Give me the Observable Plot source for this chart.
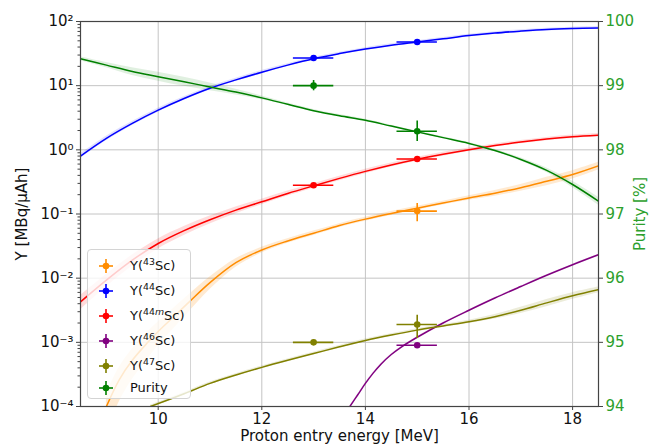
<!DOCTYPE html>
<html>
<head>
<meta charset="utf-8">
<script src="https://cdn.jsdelivr.net/npm/d3@7"></script>
<script src="https://cdn.jsdelivr.net/npm/@observablehq/plot@0.6"></script>
<style>
  body { margin: 0; background: #fff; }
  #wrap { position: relative; width: 653px; height: 447px; font-family: "DejaVu Sans", sans-serif; }
  #legend { position: absolute; left: 87px; top: 249px; width: 104px; height: 150px; box-sizing: border-box;
            border: 1px solid #d4d4d4; border-radius: 4px; background: rgba(255,255,255,0.8); color: #111; font-size: 13px; }
  #legend .row { position: absolute; left: 0; height: 20px; width: 100%; }
  #legend svg { position: absolute; left: 11px; top: 3px; }
  #legend .lab { position: absolute; left: 42px; top: 0; line-height: 20px; white-space: nowrap; }
  #legend sup { font-size: 0.72em; line-height: 0; vertical-align: 0.5em; }
</style>
</head>
<body>
<div id="wrap"></div>
<script>
// ---------- data ----------
const gridE = [8.5, 9, 9.5, 10, 10.5, 11, 11.5, 12, 12.5, 13, 13.5, 14, 14.5, 15, 15.5, 16, 16.5, 17, 17.5, 18, 18.5];

const y44 = [0.80, 1.51, 2.58, 4.15, 6.31, 9.12, 12.3, 16.2, 20.9, 26.3, 31.6, 37.2, 42.7, 47.9, 53.7, 60.3, 66.1, 70.8, 75.0, 77.6, 79.4];
const y44Err = [0.08, 0.08, 0.07, 0.07, 0.06, 0.06, 0.06, 0.06, 0.05, 0.05, 0.05, 0.05, 0.05, 0.05, 0.05, 0.05, 0.05, 0.05, 0.05, 0.05, 0.05];

const y44m = [0.00427, 0.00933, 0.0191, 0.0347, 0.0550, 0.0813, 0.115, 0.155, 0.209, 0.275, 0.359, 0.462, 0.582, 0.716, 0.855, 1.005, 1.164, 1.324, 1.472, 1.600, 1.694];
const y44mErr = [0.25, 0.22, 0.2, 0.18, 0.16, 0.14, 0.12, 0.1, 0.09, 0.08, 0.08, 0.08, 0.07, 0.07, 0.07, 0.06, 0.06, 0.06, 0.06, 0.06, 0.06];

const purity = [99.42, 99.32, 99.22, 99.14, 99.06, 98.98, 98.90, 98.81, 98.71, 98.61, 98.53, 98.46, 98.37, 98.28, 98.19, 98.10, 97.99, 97.85, 97.68, 97.46, 97.20];
const purityErr = [0.03, 0.04, 0.06, 0.07, 0.07, 0.06, 0.045, 0.03, 0.02, 0.02, 0.02, 0.015, 0.015, 0.015, 0.015, 0.015, 0.02, 0.025, 0.035, 0.05, 0.06];

const e43 = [9.0, 9.25, 9.5, 9.8, 10.0, 10.3, 10.6, 11, 11.5, 12, 12.5, 13, 13.5, 14, 14.5, 15, 15.5, 16, 16.5, 17, 17.5, 18, 18.5];
const y43 = [1.0e-4, 2.63e-4, 5.25e-4, 1.0e-3, 1.48e-3, 2.51e-3, 4.27e-3, 8.51e-3, 0.0174, 0.0275, 0.0380, 0.0501, 0.0661, 0.0832, 0.102, 0.123, 0.148, 0.178, 0.211, 0.257, 0.324, 0.412, 0.562];
const y43Err = [0.6, 0.55, 0.5, 0.45, 0.4, 0.35, 0.3, 0.22, 0.15, 0.1, 0.08, 0.08, 0.07, 0.07, 0.07, 0.07, 0.07, 0.08, 0.1, 0.12, 0.15, 0.15, 0.14];

const e46 = [13.7, 13.85, 14.0, 14.15, 14.3, 14.5, 14.7, 15.0, 15.5, 16, 16.5, 17, 17.5, 18, 18.5];
const y46 = [1.0e-4, 1.51e-4, 2.29e-4, 3.31e-4, 4.57e-4, 6.46e-4, 8.51e-4, 1.20e-3, 2.00e-3, 3.16e-3, 4.90e-3, 7.41e-3, 0.0111, 0.0162, 0.0232];
const y46Err = [0.02, 0.02, 0.02, 0.02, 0.02, 0.02, 0.02, 0.02, 0.02, 0.02, 0.02, 0.02, 0.02, 0.02, 0.02];

const e47 = [9.85, 10.5, 11, 11.5, 12, 12.5, 13, 13.5, 14, 14.5, 15, 15.5, 16, 16.5, 17, 17.5, 18, 18.5];
const y47 = [1.0e-4, 1.58e-4, 2.29e-4, 3.09e-4, 4.07e-4, 5.25e-4, 6.68e-4, 8.51e-4, 1.07e-3, 1.30e-3, 1.55e-3, 1.80e-3, 2.09e-3, 2.51e-3, 3.16e-3, 4.12e-3, 5.31e-3, 6.61e-3];
const y47Err = [0.05, 0.05, 0.05, 0.05, 0.05, 0.05, 0.05, 0.05, 0.05, 0.05, 0.05, 0.05, 0.06, 0.08, 0.11, 0.13, 0.12, 0.10];

// measured points
const measE = [13.0, 15.0];
const measEerr = [0.39, 0.39];
const meas43 = [null, 0.111];      const meas43Err = [null, 0.035];
const meas44 = [27, 48];           const meas44Err = [null, null];
const meas44m = [0.28, 0.72];      const meas44mErr = [null, null];
const meas46 = [null, 9.0e-4];     const meas46Err = [null, null];
const meas47 = [1.0e-3, 1.9e-3];   const meas47Err = [null, 0.75e-3];
const measPurity = [99.0, 98.29];  const measPurityErr = [0.08, 0.16];

const seriesNames = ["Y(<sup>43</sup>Sc)", "Y(<sup>44</sup>Sc)", "Y(<sup>44<i>m</i></sup>Sc)", "Y(<sup>46</sup>Sc)", "Y(<sup>47</sup>Sc)", "Purity"];
const seriesColors = ["#ff8c00", "#0000ff", "#ff0000", "#800080", "#808000", "#008000"];

const xTicks = [10, 12, 14, 16, 18];
const yDecades = [1e-4, 1e-3, 1e-2, 1e-1, 1, 10, 100];
const purityTicks = [94, 95, 96, 97, 98, 99, 100];

// ---------- build ----------
const toY = p => Math.pow(10, p - 98);           // purity axis mapped onto log axis
const fromY = v => Math.round(Math.log10(v) + 98);
const supMap = {"-": "\u207B", "0": "\u2070", "1": "\u00B9", "2": "\u00B2", "3": "\u00B3", "4": "\u2074"};
const fmtDecade = v => "10" + String(Math.round(Math.log10(v))).split("").map(c => supMap[c]).join("");

function curve(E, Y, R) {
  return E.map((e, i) => ({e, y: Y[i], lo: Y[i] * (1 - R[i]), hi: Y[i] * (1 + R[i])}));
}
const curves = [
  {rows: curve(e43, y43, y43Err), color: seriesColors[0], op: 0.18},
  {rows: curve(gridE, y44, y44Err), color: seriesColors[1], op: 0.12},
  {rows: curve(gridE, y44m, y44mErr), color: seriesColors[2], op: 0.14},
  {rows: curve(e46, y46, y46Err), color: seriesColors[3], op: 0.12},
  {rows: curve(e47, y47, y47Err), color: seriesColors[4], op: 0.15},
  {rows: gridE.map((e, i) => ({e, y: toY(purity[i]), lo: toY(purity[i] - purityErr[i]), hi: toY(purity[i] + purityErr[i])})), color: seriesColors[5], op: 0.12}
];

const measSets = [
  [meas43, meas43Err, seriesColors[0]],
  [meas44, meas44Err, seriesColors[1]],
  [meas44m, meas44mErr, seriesColors[2]],
  [meas46, meas46Err, seriesColors[3]],
  [meas47, meas47Err, seriesColors[4]],
  [measPurity.map(toY), measPurity, seriesColors[5]]
];
const pts = [];
measSets.forEach(([vals, errs, color], k) => {
  vals.forEach((v, i) => {
    if (v == null) return;
    let lo = null, hi = null;
    if (k === 5) { lo = toY(measPurity[i] - measPurityErr[i]); hi = toY(measPurity[i] + measPurityErr[i]); }
    else if (errs[i] != null) { lo = v - errs[i]; hi = v + errs[i]; }
    pts.push({x: measE[i], x1: measE[i] - measEerr[i], x2: measE[i] + measEerr[i], y: v, lo, hi, color});
  });
});

const minorTicks = [];
for (let d = -4; d < 2; d++) for (let m = 2; m <= 9; m++) minorTicks.push(m * Math.pow(10, d));

const marks = [
  Plot.gridX(xTicks, {stroke: "#c4c4c4", strokeOpacity: 1, strokeWidth: 1}),
  Plot.gridY(yDecades, {stroke: "#c4c4c4", strokeOpacity: 1, strokeWidth: 1})
];
curves.forEach(c => {
  marks.push(Plot.areaY(c.rows, {x: "e", y1: "lo", y2: "hi", fill: c.color, fillOpacity: c.op, curve: "catmull-rom", clip: true}));
});
curves.forEach(c => {
  marks.push(Plot.lineY(c.rows, {x: "e", y: "y", stroke: c.color, strokeWidth: 1.5, curve: "catmull-rom", clip: true}));
});
marks.push(
  Plot.ruleY(pts, {y: "y", x1: "x1", x2: "x2", stroke: "color", strokeWidth: 1.6}),
  Plot.ruleX(pts.filter(d => d.lo != null), {x: "x", y1: "lo", y2: "hi", stroke: "color", strokeWidth: 1.6}),
  Plot.dot(pts, {x: "x", y: "y", r: 3.3, fill: "color", stroke: null}),
  Plot.axisY(minorTicks, {anchor: "left", tickSize: 2.5, tickFormat: () => "", label: null, stroke: "#444"}),
  Plot.axisY(yDecades, {anchor: "left", tickSize: 4, tickPadding: 3, tickFormat: fmtDecade, fontSize: 15, fill: "#111", stroke: "#444",
    label: "Y [MBq/\u03BCAh]", labelAnchor: "center", labelOffset: 64, labelArrow: "none"}),
  Plot.axisY(purityTicks.map(toY), {anchor: "right", tickSize: 4, tickPadding: 3, tickFormat: fromY, fontSize: 15, fill: "#2ca02c", stroke: "#444",
    label: "Purity [%]", labelAnchor: "center", labelOffset: 46, labelArrow: "none"}),
  Plot.axisX(xTicks, {anchor: "bottom", tickSize: 4, tickPadding: 3, fontSize: 15, fill: "#111", stroke: "#444",
    label: "Proton entry energy [MeV]", labelAnchor: "center", labelOffset: 34, labelArrow: "none"}),
  Plot.frame({stroke: "#444", strokeWidth: 1.2})
);

const chart = Plot.plot({
  width: 653, height: 447,
  marginLeft: 80, marginRight: 55, marginTop: 21, marginBottom: 41,
  style: {fontFamily: "DejaVu Sans, sans-serif", fontSize: "15px", background: "#fff", overflow: "visible"},
  x: {domain: [8.5, 18.5]},
  y: {type: "log", domain: [1e-4, 100]},
  color: {type: "identity"},
  marks
});
const wrap = document.getElementById("wrap");
wrap.appendChild(chart);

// ---------- legend ----------
const leg = document.createElement("div");
leg.id = "legend";
const rowCenters = [16, 41, 66, 91, 116, 138];
seriesNames.forEach((name, i) => {
  const row = document.createElement("div");
  row.className = "row";
  row.style.top = (rowCenters[i] - 10) + "px";
  const c = seriesColors[i];
  row.innerHTML = `<svg width="14" height="14" viewBox="0 0 14 14"><line x1="0" y1="7" x2="14" y2="7" stroke="${c}" stroke-width="1.6"/><line x1="7" y1="0" x2="7" y2="14" stroke="${c}" stroke-width="1.6"/><circle cx="7" cy="7" r="3.3" fill="${c}"/></svg><span class="lab">${name}</span>`;
  leg.appendChild(row);
});
wrap.appendChild(leg);
</script>
</body>
</html>
